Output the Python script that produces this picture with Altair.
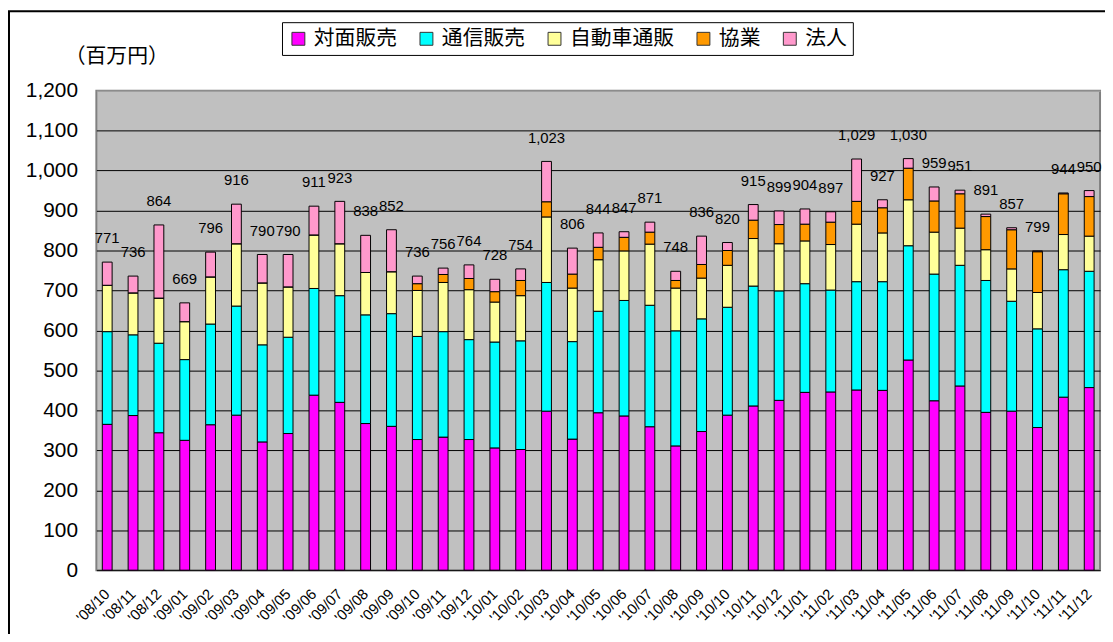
import altair as alt
import pandas as pd

months = ["'08/10", "'08/11", "'08/12",
          "'09/01", "'09/02", "'09/03", "'09/04", "'09/05", "'09/06",
          "'09/07", "'09/08", "'09/09", "'09/10", "'09/11", "'09/12",
          "'10/01", "'10/02", "'10/03", "'10/04", "'10/05", "'10/06",
          "'10/07", "'10/08", "'10/09", "'10/10", "'10/11", "'10/12",
          "'11/01", "'11/02", "'11/03", "'11/04", "'11/05", "'11/06",
          "'11/07", "'11/08", "'11/09", "'11/10", "'11/11", "'11/12"]

series = ["対面販売", "通信販売", "自動車通販", "協業", "法人"]
colors = ["#FF00FF", "#00FFFF", "#FFFF99", "#FF9900", "#FF99CC"]

taimen = [365, 387, 344, 325, 364, 388, 321, 342, 438, 420, 367, 360, 327,
          333, 327, 306, 302, 398, 328, 394, 386, 359, 311, 347, 388, 411,
          425, 445, 446, 451, 450, 526, 424, 461, 395, 398, 357, 433, 457]
tsushin = [232, 202, 224, 202, 252, 273, 243, 241, 267, 267, 272, 282, 258,
           264, 250, 265, 272, 322, 244, 254, 289, 304, 288, 282, 270, 300,
           274, 272, 255, 271, 272, 286, 317, 302, 330, 275, 247, 319, 291]
jidosha = [116, 105, 113, 95, 118, 156, 155, 126, 134, 130, 106, 105, 115,
           123, 125, 100, 113, 164, 134, 129, 124, 153, 107, 102, 105, 119,
           118, 107, 114, 144, 122, 115, 105, 93, 77, 81, 91, 88, 88]
kyogyo = [0, 0, 0, 0, 0, 0, 0, 0, 0, 0, 0, 0, 17,
          20, 28, 26, 38, 38, 35, 31, 34, 30, 19, 34, 37, 46,
          48, 42, 56, 57, 63, 79, 78, 86, 83, 98, 102, 102, 99]
hojin = [58, 42, 183, 47, 62, 99, 71, 81, 72, 106, 93, 105, 19,
         16, 34, 31, 29, 101, 65, 36, 14, 25, 23, 71, 20, 39,
         34, 38, 26, 106, 20, 24, 35, 9, 6, 5, 2, 2, 15]

vals = [taimen, tsushin, jidosha, kyogyo, hojin]
rows = []
for si, (name, arr) in enumerate(zip(series, vals)):
    for m, v in zip(months, arr):
        rows.append({"month": m, "series": name, "order": si, "value": v})
df = pd.DataFrame(rows)

totals = [sum(v[i] for v in vals) for i in range(len(months))]
tdf = pd.DataFrame({"month": months, "total": totals})

jp_font = "Noto Sans CJK JP"
num_font = "Liberation Sans"

xenc = alt.X("month:N", sort=months,
             scale=alt.Scale(paddingInner=0.62, paddingOuter=0.23),
             axis=alt.Axis(title=None, labelAngle=-45, labelAlign="right",
                           labelBaseline="middle", labelFontSize=15,
                           labelFont=num_font, labelColor="black",
                           labelPadding=21, ticks=False, domain=False,
                           grid=False))

yscale = alt.Scale(domain=[0, 1200])

bars = alt.Chart(df).mark_bar(stroke="black", strokeWidth=1).encode(
    x=xenc,
    y=alt.Y("sum(value):Q", scale=yscale, stack="zero",
            axis=alt.Axis(title="（百万円）", titleAngle=0, titleX=20,
                          titleY=-34, titleAlign="center",
                          titleBaseline="middle", titleFont=jp_font,
                          titleFontSize=21, titleFontWeight="normal",
                          titleColor="black",
                          values=list(range(0, 1201, 100)), format=",.0f",
                          labelFontSize=21, labelFont=num_font,
                          labelColor="black", labelPadding=19,
                          ticks=False, domain=False, grid=True,
                          gridColor=alt.condition("datum.value >= 1200",
                                                  alt.value("#A8A8A8"),
                                                  alt.value("black")),
                          gridWidth=1)),
    color=alt.Color("series:N", sort=series,
                    scale=alt.Scale(domain=series, range=colors),
                    legend=alt.Legend(title=None, orient="none",
                                      legendX=187, legendY=-69,
                                      direction="horizontal",
                                      symbolType="square", symbolSize=169,
                                      symbolStrokeColor="#333333",
                                      symbolStrokeWidth=1,
                                      labelFont=jp_font, labelFontSize=21,
                                      labelColor="black", labelOffset=5,
                                      columnPadding=19, padding=6,
                                      strokeColor="black",
                                      fillColor="white")),
    order=alt.Order("order:Q", sort="ascending"),
)

labels = alt.Chart(tdf).mark_text(fontSize=15, font=num_font, color="black",
                                  baseline="middle", dy=-24).encode(
    x=alt.X("month:N", sort=months),
    y=alt.Y("total:Q", scale=yscale),
    text=alt.Text("total:Q", format=","),
)

frame = alt.Chart(pd.DataFrame({"a": [0]})).mark_rect(
    fill="transparent", fillOpacity=0, stroke="black", strokeWidth=2,
    clip=False).encode(
    x=alt.value(-88), x2=alt.value(1040),
    y=alt.value(-80), y2=alt.value(620),
)

chart = alt.layer(bars, labels, frame).properties(
    width=1011, height=483,
    background="white",
    autosize=alt.AutoSizeParams(type="none"),
    padding={"left": 89, "top": 81, "right": 5, "bottom": 62},
).configure_view(
    fill="#C0C0C0", stroke="#808080", strokeWidth=2
)

chart.save("out.html", embed_options={"renderer": "svg", "actions": False})
